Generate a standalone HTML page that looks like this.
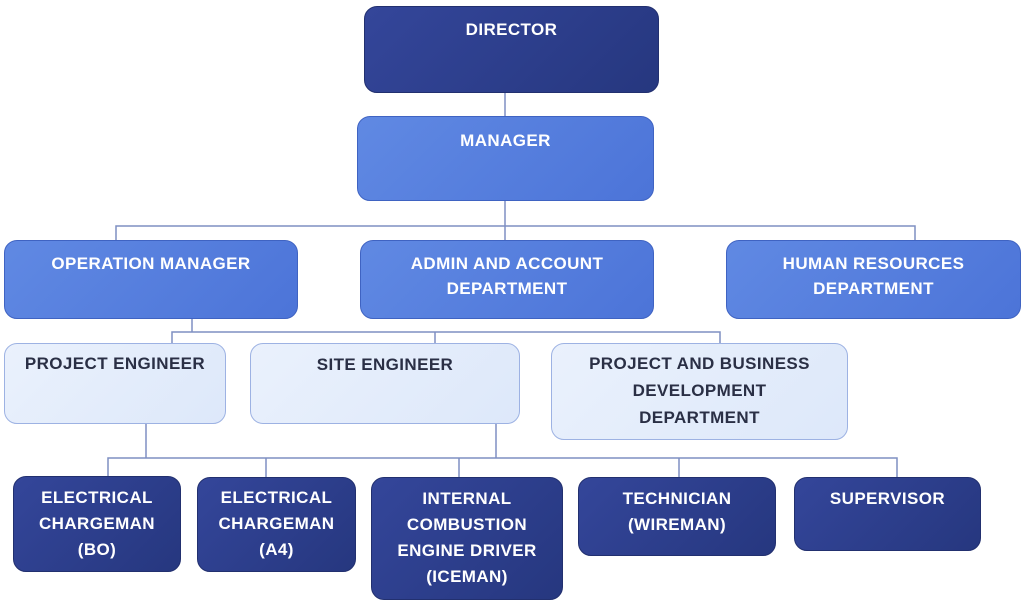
<!DOCTYPE html>
<html><head><meta charset="utf-8"><style>
body{margin:0;width:1024px;height:608px;background:#fff;position:relative;overflow:hidden;font-family:"Liberation Sans",sans-serif}
.b{position:absolute;box-sizing:border-box;border-radius:13px;text-align:center;font-weight:bold;font-size:17px;line-height:25px;letter-spacing:0.4px}
.d{background:linear-gradient(135deg,#34469a,#26377f);color:#fff;border:1px solid #22306f}
.m{background:linear-gradient(135deg,#6089e3,#4c74d8);color:#fff;border:1px solid #3f63c2}
.l{background:linear-gradient(135deg,#eaf1fc,#dde8fa);color:#2a2f45;border:1.5px solid #9db2e3}
svg{position:absolute;left:0;top:0}
</style></head><body>
<svg width="1024" height="608"><g stroke="#7f8fc2" stroke-width="1.5" fill="none">
<line x1="505" y1="93" x2="505" y2="116"/>
<line x1="505" y1="201" x2="505" y2="226"/>
<polyline points="116,240 116,226 915,226 915,240"/>
<line x1="505" y1="226" x2="505" y2="240"/>
<line x1="192" y1="319" x2="192" y2="332"/>
<polyline points="172,343 172,332 720,332 720,343"/>
<line x1="435" y1="332" x2="435" y2="343"/>
<line x1="146" y1="424" x2="146" y2="458"/>
<line x1="496" y1="424" x2="496" y2="458"/>
<polyline points="108,477 108,458 897,458 897,477"/>
<line x1="266" y1="458" x2="266" y2="477"/>
<line x1="459" y1="458" x2="459" y2="477"/>
<line x1="679" y1="458" x2="679" y2="477"/>
</g></svg>
<div class="b d" style="left:364px;top:6px;width:295px;height:87px;padding-top:10px">DIRECTOR</div>
<div class="b m" style="left:357px;top:116px;width:297px;height:85px;padding-top:11px">MANAGER</div>
<div class="b m" style="left:4px;top:240px;width:294px;height:79px;padding-top:10px">OPERATION MANAGER</div>
<div class="b m" style="left:360px;top:240px;width:294px;height:79px;padding-top:10px">ADMIN AND ACCOUNT<br>DEPARTMENT</div>
<div class="b m" style="left:726px;top:240px;width:295px;height:79px;padding-top:10px">HUMAN RESOURCES<br>DEPARTMENT</div>
<div class="b l" style="left:4px;top:343px;width:222px;height:81px;padding-top:7px">PROJECT ENGINEER</div>
<div class="b l" style="left:250px;top:343px;width:270px;height:81px;padding-top:8px">SITE ENGINEER</div>
<div class="b l" style="left:551px;top:343px;width:297px;height:97px;padding-top:6px;line-height:27px">PROJECT AND BUSINESS<br>DEVELOPMENT<br>DEPARTMENT</div>
<div class="b d" style="left:13px;top:476px;width:168px;height:96px;padding-top:8px;line-height:26px">ELECTRICAL<br>CHARGEMAN<br>(BO)</div>
<div class="b d" style="left:197px;top:477px;width:159px;height:95px;padding-top:7px;line-height:26px">ELECTRICAL<br>CHARGEMAN<br>(A4)</div>
<div class="b d" style="left:371px;top:477px;width:192px;height:123px;padding-top:8px;line-height:26px">INTERNAL<br>COMBUSTION<br>ENGINE DRIVER<br>(ICEMAN)</div>
<div class="b d" style="left:578px;top:477px;width:198px;height:79px;padding-top:8px;line-height:26px">TECHNICIAN<br>(WIREMAN)</div>
<div class="b d" style="left:794px;top:477px;width:187px;height:74px;padding-top:8px">SUPERVISOR</div>
</body></html>
